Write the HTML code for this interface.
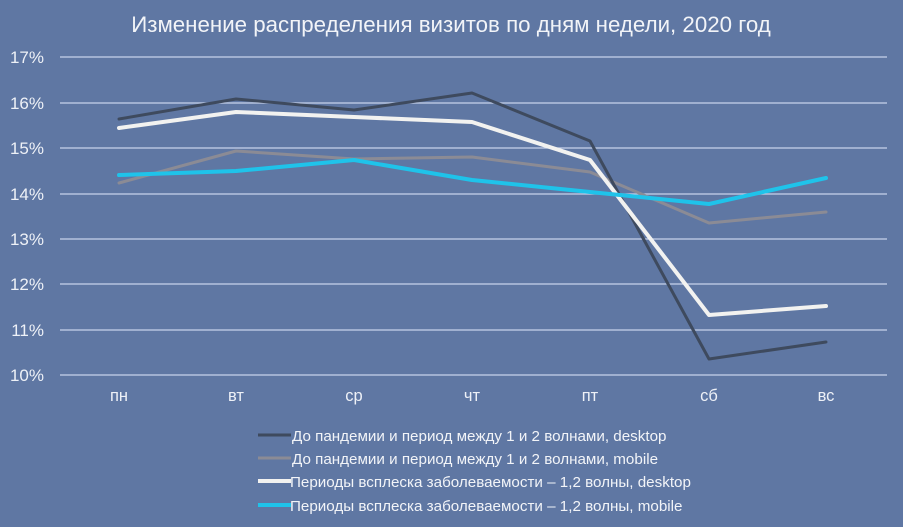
<!DOCTYPE html>
<html><head><meta charset="utf-8"><style>
body{margin:0;background:#5f77a3;}
svg{display:block;font-family:"Liberation Sans","DejaVu Sans",sans-serif;}
</style></head><body>
<svg width="903" height="527" viewBox="0 0 903 527">
<rect width="903" height="527" fill="#5f77a3"/>
<text x="451" y="32" text-anchor="middle" font-size="22.3" fill="#f2f4f8">Изменение распределения визитов по дням недели, 2020 год</text>
<g stroke="#c8d3ea" stroke-width="1.3">
<line x1="60" y1="57" x2="887" y2="57"/><line x1="60" y1="103" x2="887" y2="103"/>
<line x1="60" y1="148" x2="887" y2="148"/><line x1="60" y1="194" x2="887" y2="194"/>
<line x1="60" y1="239" x2="887" y2="239"/><line x1="60" y1="284" x2="887" y2="284"/>
<line x1="60" y1="330" x2="887" y2="330"/><line x1="60" y1="375" x2="887" y2="375"/>
</g>
<g font-size="17" fill="#eef1f7" text-anchor="end">
<text x="44" y="63">17%</text><text x="44" y="109">16%</text><text x="44" y="154">15%</text>
<text x="44" y="200">14%</text><text x="44" y="245">13%</text><text x="44" y="290">12%</text>
<text x="44" y="336">11%</text><text x="44" y="381">10%</text>
</g>
<g font-size="16.5" fill="#eef1f7" text-anchor="middle">
<text x="119" y="401">пн</text><text x="236" y="401">вт</text><text x="354" y="401">ср</text>
<text x="472" y="401">чт</text><text x="590" y="401">пт</text><text x="709" y="401">сб</text><text x="826" y="401">вс</text>
</g>
<g fill="none" stroke-linejoin="round" stroke-linecap="round">
<polyline stroke="#8b8b95" stroke-width="3" points="119,183 236,151 354,159 472,157 590,172 709,223 826,212"/>
<polyline stroke="#3e4a5e" stroke-width="3" points="119,119 236,99 354,110 472,93 590,141 709,359 826,342"/>
<polyline stroke="#f2f2f0" stroke-width="4" points="119,128 236,112 354,117 472,122 590,160 709,315 826,306"/>
<polyline stroke="#1fc3ea" stroke-width="4" points="119,175 236,171 354,160 472,180 590,192 709,204 826,178"/>
</g>
<g stroke-width="3">
<line x1="258" y1="435" x2="291" y2="435" stroke="#3e4a5e"/>
<line x1="258" y1="458" x2="291" y2="458" stroke="#8b8b95"/>
<line x1="258" y1="481" x2="291" y2="481" stroke="#f2f2f0" stroke-width="4"/>
<line x1="258" y1="505" x2="291" y2="505" stroke="#1fc3ea" stroke-width="4"/>
</g>
<g font-size="15.2" fill="#f2f4f8">
<text x="292" y="441">До пандемии и период между 1 и 2 волнами, desktop</text>
<text x="292" y="464">До пандемии и период между 1 и 2 волнами, mobile</text>
<text x="290" y="487">Периоды всплеска заболеваемости – 1,2 волны, desktop</text>
<text x="290" y="511">Периоды всплеска заболеваемости – 1,2 волны, mobile</text>
</g>
</svg>
</body></html>
